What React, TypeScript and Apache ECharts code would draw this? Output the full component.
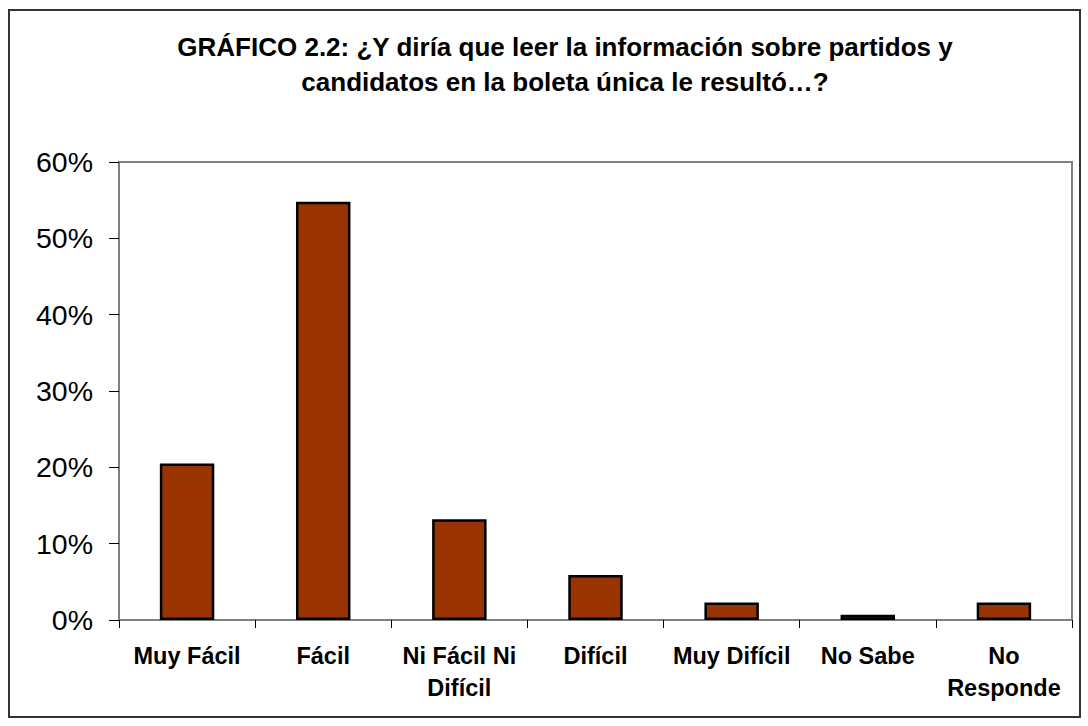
import React, { useEffect, useRef } from "react";
import * as echarts from "echarts";

const categories = [
  "Muy Fácil",
  "Fácil",
  "Ni Fácil Ni\nDifícil",
  "Difícil",
  "Muy Difícil",
  "No Sabe",
  "No\nResponde",
];
const values = [20.5, 54.8, 13.2, 5.9, 2.3, 0.7, 2.3];
const titleLines = [
  "GRÁFICO 2.2: ¿Y diría que leer la información sobre partidos y",
  "candidatos en la boleta única le resultó…?",
];
const yMax = 60;
const yInterval = 10;

export default function App() {
  const ref = useRef<HTMLDivElement>(null);
  useEffect(() => {
    document.body.style.margin = "0";
    const chart = echarts.init(ref.current!, null, { renderer: "svg" });
    const font = "Arial, 'Liberation Sans', sans-serif";
    chart.setOption({
      animation: false,
      backgroundColor: "#ffffff",
      textStyle: { fontFamily: font },
      grid: {
        left: 119,
        top: 162,
        right: 16,
        bottom: 106,
        show: true,
        borderColor: "#808080",
        borderWidth: 2,
        containLabel: false,
      },
      graphic: [
        {
          type: "rect",
          shape: { x: 9, y: 10, width: 1071, height: 707 },
          style: { fill: "none", stroke: "#333333", lineWidth: 2 },
          silent: true,
        },
        {
          type: "text",
          x: 565,
          y: 47,
          style: {
            text: titleLines[0],
            font: `bold 26px ${font}`,
            fill: "#000000",
            textAlign: "center",
            textVerticalAlign: "middle",
          },
        },
        {
          type: "text",
          x: 565,
          y: 82,
          style: {
            text: titleLines[1],
            font: `bold 26px ${font}`,
            fill: "#000000",
            textAlign: "center",
            textVerticalAlign: "middle",
          },
        },
      ],
      xAxis: {
        type: "category",
        data: categories,
        axisLine: { show: true, lineStyle: { color: "#808080", width: 2 } },
        axisTick: { show: true, length: 8, lineStyle: { color: "#000000", width: 1 } },
        axisLabel: {
          interval: 0,
          margin: 20,
          fontSize: 23.5,
          fontWeight: "bold",
          lineHeight: 32,
          color: "#000000",
          fontFamily: font,
        },
        splitLine: { show: false },
      },
      yAxis: {
        type: "value",
        min: 0,
        max: yMax,
        interval: yInterval,
        axisLine: { show: true, lineStyle: { color: "#808080", width: 2 } },
        axisTick: { show: true, length: 10, lineStyle: { color: "#000000", width: 1 } },
        axisLabel: {
          margin: 26,
          fontSize: 28.5,
          color: "#000000",
          fontFamily: font,
          formatter: (v: number) => `${v}%`,
        },
        splitLine: { show: false },
      },
      series: [
        {
          type: "bar",
          data: values,
          barCategoryGap: "60%",
          itemStyle: { color: "#993300", borderColor: "#000000", borderWidth: 2.5 },
        },
      ],
    });
    return () => chart.dispose();
  }, []);
  return <div ref={ref} style={{ width: 1088, height: 726 }} />;
}
